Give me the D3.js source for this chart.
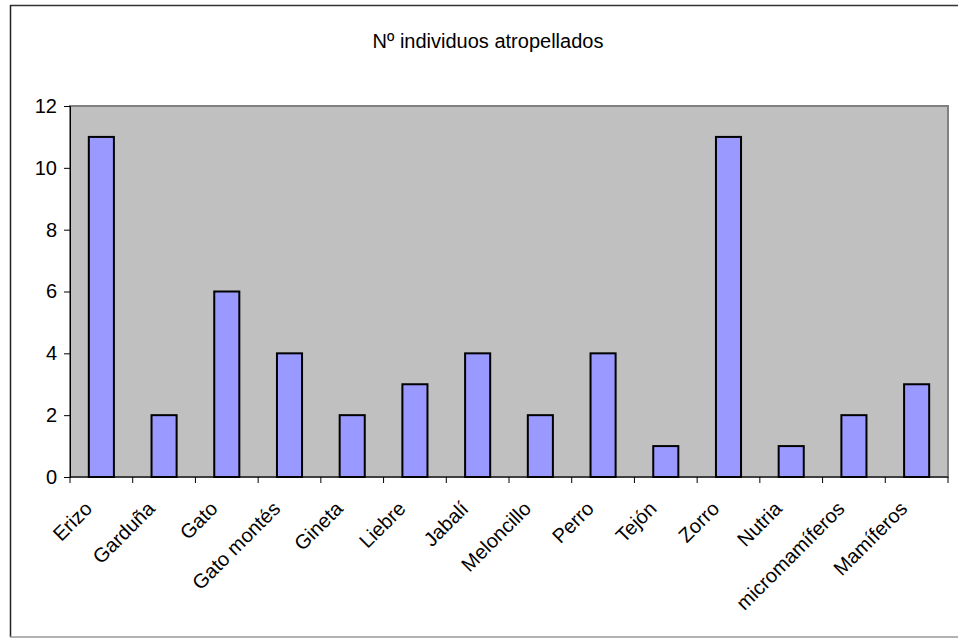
<!DOCTYPE html>
<html><head><meta charset="utf-8">
<script src="https://cdn.jsdelivr.net/npm/d3@7"></script>
<style>body{margin:0;background:#fff;}svg{display:block;font-family:"Liberation Sans",Arial,sans-serif;}</style>
</head><body>
<script>
const categories = ["Erizo","Garduña","Gato","Gato montés","Gineta","Liebre","Jabalí","Meloncillo","Perro","Tejón","Zorro","Nutria","micromamíferos","Mamíferos"];
const values = [11,2,6,4,2,3,4,2,4,1,11,1,2,3];
const yTicks = [0,2,4,6,8,10,12];
const title = "Nº individuos atropellados";

const W=958,H=639;
const svg=d3.select("body").append("svg").attr("width",W).attr("height",H);
svg.append("line").attr("x1",10).attr("x2",958).attr("y1",5.5).attr("y2",5.5).attr("stroke","#333").attr("stroke-width",1.5);
svg.append("line").attr("x1",10.5).attr("x2",10.5).attr("y1",5).attr("y2",637).attr("stroke","#222").attr("stroke-width",1.5);
svg.append("line").attr("x1",10).attr("x2",958).attr("y1",637).attr("y2",637).attr("stroke","#999").attr("stroke-width",1.5);

const m={l:70,t:106,r:948,b:477};
const x=d3.scaleBand().domain(categories).range([m.l,m.r]).paddingInner(0.6).paddingOuter(0.3);
const y=d3.scaleLinear().domain([0,12]).range([m.b,m.t]);

svg.append("rect").attr("x",m.l).attr("y",m.t).attr("width",m.r-m.l).attr("height",m.b-m.t).attr("fill","#C0C0C0").attr("stroke","#808080").attr("stroke-width",2);

svg.selectAll(".bar").data(values).enter().append("rect")
  .attr("x",(d,i)=>x(categories[i])).attr("y",d=>y(d))
  .attr("width",x.bandwidth()).attr("height",d=>y(0)-y(d))
  .attr("fill","#9999FF").attr("stroke","#000").attr("stroke-width",2);

// y axis
const ya=svg.append("g").attr("transform",`translate(${m.l},0)`).call(d3.axisLeft(y).tickValues(yTicks).tickSize(6).tickPadding(7).tickFormat(d3.format("d")));
ya.select(".domain").attr("stroke","#000");
ya.selectAll("line").attr("stroke","#000");
ya.selectAll("text").attr("font-size",20).attr("fill","#000").attr("font-family","Liberation Sans, Arial, sans-serif");

// x axis
const xa=svg.append("g").attr("transform",`translate(0,${m.b})`);
xa.append("line").attr("x1",m.l).attr("x2",m.r).attr("stroke","#000");
const bounds=d3.range(categories.length+1).map(i=>m.l+i*(m.r-m.l)/categories.length);
xa.selectAll(".tk").data(bounds).enter().append("line").attr("x1",d=>d).attr("x2",d=>d).attr("y1",0).attr("y2",6).attr("stroke","#000");
xa.selectAll(".lb").data(categories).enter().append("text")
  .attr("transform",d=>`translate(${x(d)+x.bandwidth()/2-8},${33}) rotate(-45)`)
  .attr("text-anchor","end").attr("font-size",20).attr("fill","#000").text(d=>d);

svg.append("text").attr("x",488).attr("y",48).attr("text-anchor","middle").attr("font-size",20).attr("fill","#000").text(title);
</script>
</body></html>
